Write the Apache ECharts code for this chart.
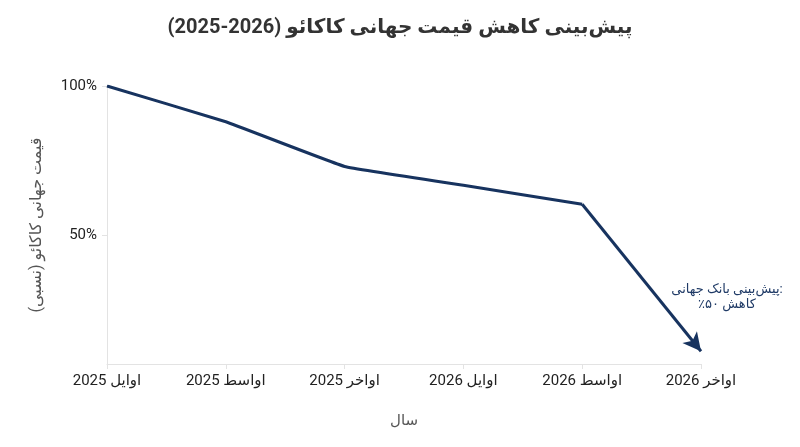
<!DOCTYPE html>
<html>
<head>
<meta charset="utf-8">
<script src="https://cdn.jsdelivr.net/npm/echarts@6/dist/echarts.min.js"></script>
<style>
html,body{margin:0;padding:0;background:#fff;}
#c{width:800px;height:447px;}
</style>
</head>
<body>
<div id="c"></div>
<script>
const categories = ['اوایل 2025', 'اواسط 2025', 'اواخر 2025', 'اوایل 2026', 'اواسط 2026', 'اواخر 2026'];
const priceIndex = [100, 88, 73, 66.7, 60.3, 11];
const yTickValues = [50, 100];
const titleMain = 'پیش‌بینی کاهش قیمت جهانی کاکائو';
const titleYears = '(2025-2026)';
const yAxisName = 'قیمت جهانی کاکائو (نسبی)';
const xAxisName = 'سال';
const noteLine1 = 'پیش‌بینی بانک جهانی:';
const noteLine2 = 'کاهش ۵۰٪';

const FONT = "Roboto, 'DejaVu Sans', sans-serif";
const NAVY = '#17335f';
const RLI = '\u2067', LRI = '\u2066', PDI = '\u2069';
const chart = echarts.init(document.getElementById('c'), null, {renderer: 'canvas'});
const last = priceIndex.length - 1;
chart.setOption({
  backgroundColor: '#fff',
  animation: false,
  textStyle: {fontFamily: FONT},
  title: {
    text: RLI + titleMain + ' ' + LRI + titleYears + PDI + PDI,
    left: 'center',
    top: 13,
    textStyle: {fontSize: 20, fontWeight: 'bold', color: '#333', fontFamily: FONT}
  },
  grid: {left: 107, right: 99, top: 86, bottom: 83},
  xAxis: {
    type: 'category',
    data: categories,
    boundaryGap: false,
    name: xAxisName,
    nameLocation: 'middle',
    nameGap: 50,
    nameTextStyle: {fontSize: 15, color: '#555', fontFamily: FONT},
    axisLine: {lineStyle: {color: '#e3e3e3', width: 1}},
    axisTick: {show: true, length: 5, lineStyle: {color: '#e3e3e3'}},
    axisLabel: {fontSize: 15, color: '#222', margin: 10, fontFamily: FONT},
    splitLine: {show: false}
  },
  yAxis: {
    type: 'value',
    min: 6.7,
    max: 100,
    name: yAxisName,
    nameLocation: 'middle',
    nameGap: 62,
    nameRotate: 90,
    nameTextStyle: {fontSize: 16, color: '#555', fontFamily: FONT},
    axisLine: {show: true, lineStyle: {color: '#e3e3e3', width: 1}},
    axisTick: {show: true, length: 5, customValues: yTickValues, lineStyle: {color: '#e3e3e3'}},
    axisLabel: {fontSize: 15, color: '#222', margin: 10, customValues: yTickValues, formatter: v => v + '%', fontFamily: FONT},
    splitLine: {show: false}
  },
  series: [{
    type: 'line',
    data: priceIndex.slice(0, last),
    smooth: 0.08,
    showSymbol: false,
    symbol: 'none',
    lineStyle: {color: NAVY, width: 3},
    markLine: {
      silent: true,
      symbol: ['none', 'arrow'],
      symbolSize: [14, 18],
      label: {show: false},
      lineStyle: {color: NAVY, width: 3, type: 'solid'},
      data: [[
        {coord: [last - 1, priceIndex[last - 1]]},
        {coord: [last, priceIndex[last]]}
      ]]
    }
  }],
  graphic: [{
    type: 'text',
    style: {
      x: 727, y: 290,
      text: noteLine1,
      fill: '#1f3a66',
      font: "13px " + FONT,
      align: 'center',
      verticalAlign: 'middle'
    }
  }, {
    type: 'text',
    style: {
      x: 727, y: 305,
      text: RLI + noteLine2 + PDI,
      fill: '#1f3a66',
      font: "13px " + FONT,
      align: 'center',
      verticalAlign: 'middle'
    }
  }]
});
</script>
</body>
</html>
